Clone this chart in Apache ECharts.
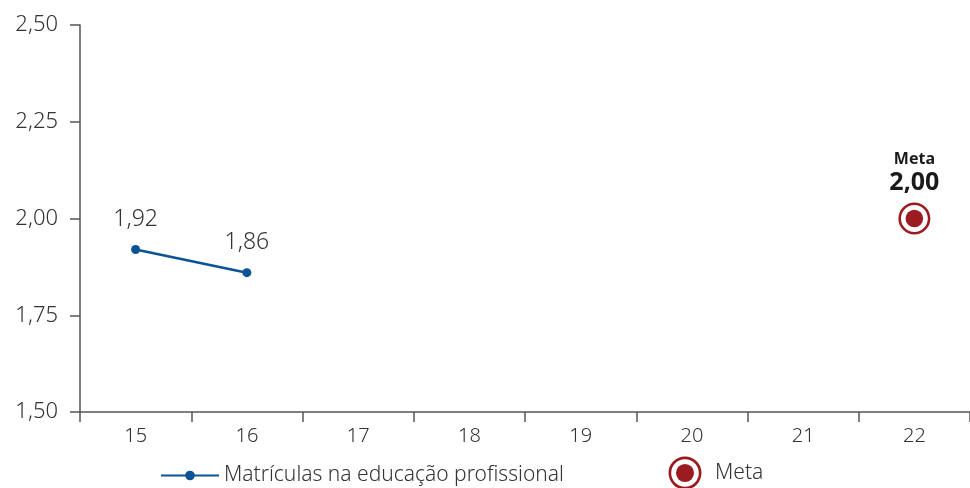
<!DOCTYPE html>
<html>
<head>
<meta charset="utf-8">
<script src="https://cdn.jsdelivr.net/npm/echarts@6/dist/echarts.min.js"></script>
<style>
  html, body { margin: 0; padding: 0; background: #fff; }
  #chart { width: 970px; height: 488px; }
</style>
</head>
<body>
<div id="chart"></div>
<script>
// dados
const anos = ["15", "16", "17", "18", "19", "20", "21", "22"];
const matriculas = [1.92, 1.86, null, null, null, null, null, null];
const meta = [null, null, null, null, null, null, null, 2.0];
const yMin = 1.5, yMax = 2.5, yStep = 0.25;

const fmt = (v) => v.toFixed(2).replace(".", ",");
const fonte = "Noto Sans";
const corMeta = "#9b1b20";
const corLinha = "#0b5394";

// ícone da meta: anel + ponto
const metaIcon = "image://data:image/svg+xml;utf8," + encodeURIComponent(
  '<svg xmlns="http://www.w3.org/2000/svg" width="64" height="64" viewBox="0 0 64 64">' +
  '<circle cx="32" cy="32" r="28.5" fill="#fff" stroke="' + corMeta + '" stroke-width="5"/>' +
  '<circle cx="32" cy="32" r="17" fill="' + corMeta + '"/></svg>'
);

const legendaTexto = { fontSize: 21, color: "#333", fontFamily: fonte, fontWeight: 300 };

const option = {
  animation: false,
  textStyle: { fontFamily: fonte },
  grid: { left: 80, right: 0, top: 25, bottom: 76 },
  legend: [
    {
      bottom: -3,
      left: 155,
      itemWidth: 58,
      itemHeight: 12,
      textStyle: legendaTexto,
      data: ["Matrículas na educação profissional"]
    },
    {
      bottom: -7,
      left: 663,
      itemWidth: 34,
      itemHeight: 34,
      textStyle: Object.assign({ padding: [0, 0, 0, 8] }, legendaTexto),
      data: [{ name: "Meta", icon: metaIcon }]
    }
  ],
  xAxis: {
    type: "category",
    data: anos,
    axisLine: { lineStyle: { color: "#555", width: 1.5 } },
    axisTick: { show: true, length: 10, lineStyle: { color: "#555", width: 1.5 } },
    axisLabel: { fontSize: 20, color: "#333", margin: 14, fontWeight: 300 }
  },
  yAxis: {
    type: "value",
    min: yMin,
    max: yMax,
    interval: yStep,
    splitLine: { show: false },
    axisLine: { show: true, lineStyle: { color: "#555", width: 1.5 } },
    axisTick: { show: true, length: 10, lineStyle: { color: "#555", width: 1.5 } },
    axisLabel: { fontSize: 22, color: "#333", margin: 22, fontWeight: 300, formatter: fmt }
  },
  series: [
    {
      name: "Matrículas na educação profissional",
      type: "line",
      data: matriculas,
      symbol: "circle",
      symbolSize: 9,
      connectNulls: false,
      lineStyle: { color: corLinha, width: 2.5 },
      itemStyle: { color: corLinha },
      label: {
        show: true,
        position: "top",
        distance: 14,
        fontSize: 23,
        color: "#333",
        fontWeight: 300,
        formatter: (p) => fmt(p.value)
      }
    },
    {
      name: "Meta",
      type: "scatter",
      data: meta,
      symbol: metaIcon,
      symbolSize: 33,
      itemStyle: { opacity: 1, color: corMeta },
      label: {
        show: true,
        position: "top",
        distance: 6,
        formatter: (p) => "{a|Meta}\n{b|" + fmt(p.value) + "}",
        rich: {
          a: { fontSize: 16, fontWeight: "bold", color: "#1a1a1a", lineHeight: 20, align: "center" },
          b: { fontSize: 25, fontWeight: "bold", color: "#1a1a1a", lineHeight: 27, align: "center" }
        }
      }
    }
  ]
};

const chartObj = echarts.init(document.getElementById("chart"));
chartObj.setOption(option);
window.onresize = chartObj.resize;
</script>
</body>
</html>
